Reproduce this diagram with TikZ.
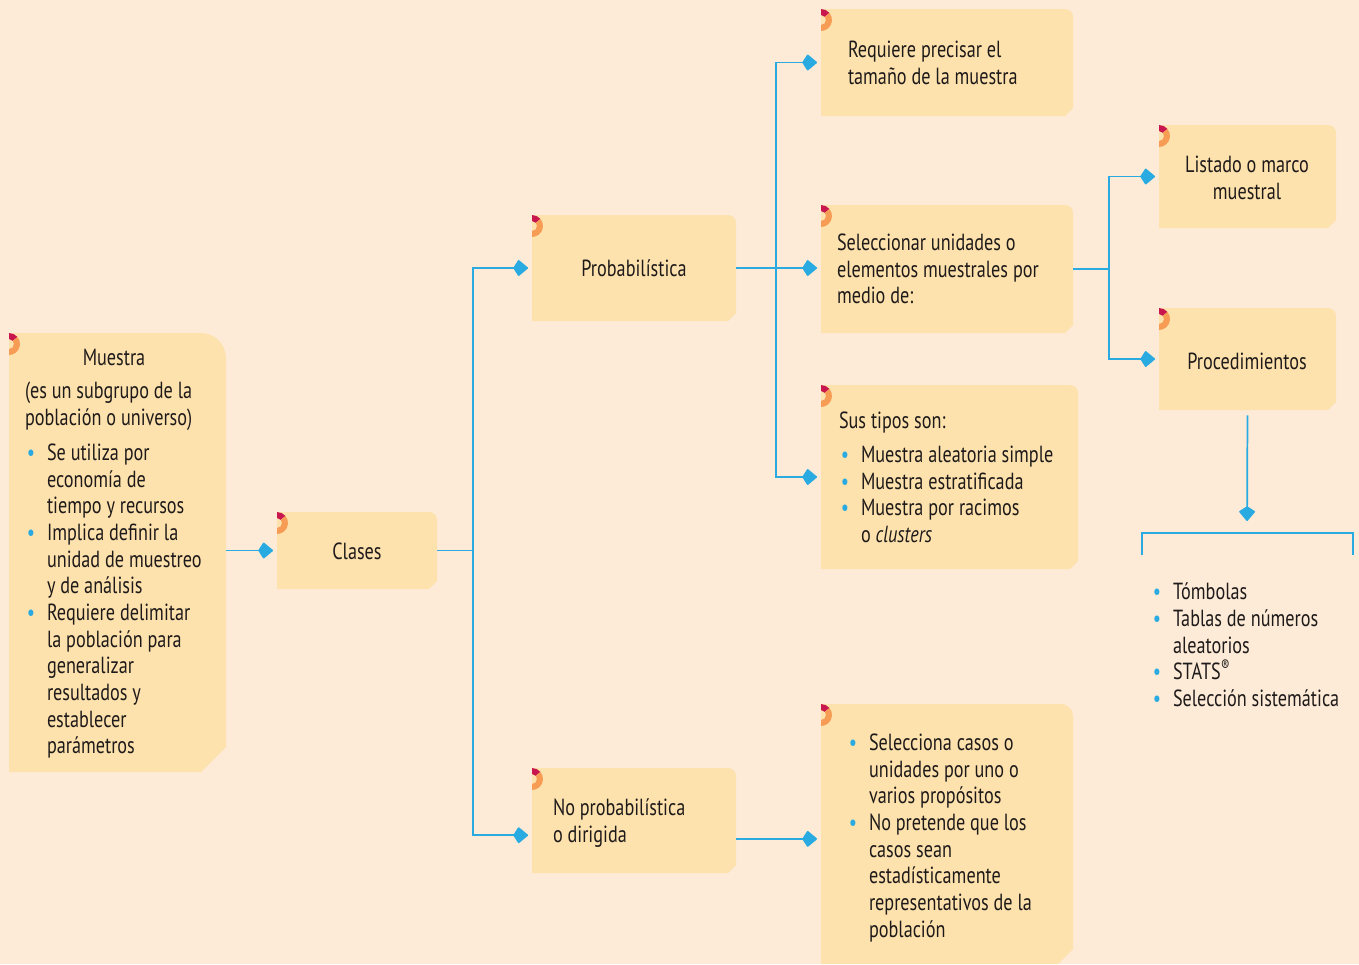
\documentclass[tikz,border=0pt]{standalone}
\usepackage{fontspec}
\setmainfont{PT Sans}[FakeStretch=0.78]
\usetikzlibrary{arrows.meta,calc}
\definecolor{bg}{HTML}{FDEBD7}
\definecolor{cardc}{HTML}{FEE2AD}
\definecolor{ringa}{HTML}{C8174F}
\definecolor{ringb}{HTML}{F69C55}
\definecolor{linec}{HTML}{29ABE2}
\definecolor{txt}{HTML}{1E1A1A}
\newcommand\mycard[7]{%
  \fill[cardc] (#2,#3) -- (#4-#6,#3) .. controls (#4-0.448*#6,#3) and (#4,#3+0.448*#6) .. (#4,#3+#6) -- (#4,#5-#7) -- (#4-#7,#5) -- (#2,#5) -- cycle;
  \begin{scope}[shift={(#2,#3+11)},x=1pt,y=1pt]
    \fill[ringa] (90:8.25) arc[start angle=90,end angle=40,radius=8.25] -- (40:3.75) arc[start angle=40,end angle=90,radius=3.75] -- cycle;
    \fill[ringb] (40:8.25) arc[start angle=40,end angle=-90,radius=8.25] -- (-90:3.75) arc[start angle=-90,end angle=40,radius=3.75] -- cycle;
  \end{scope}
  \node[minimum width={(#4-#2)*0.75pt}, minimum height={(#5-#3)*0.75pt}] (#1) at ({(#2+#4)/2},{(#3+#5)/2}) {};
}
\newcommand\bul{\llap{\textcolor{linec}{•}\hspace{9pt}}}
\tikzset{
  every node/.style={font=\fontsize{17.5}{20}\selectfont, text=txt, inner sep=0pt, outer sep=0pt},
  conn/.style={draw=linec, line width=1.3pt, -{Kite[length=11.5pt,width=12.5pt,inset=4pt,round]}, shorten >=3pt},
  plain/.style={draw=linec, line width=1.3pt},
  txtl/.style={anchor=north west, align=left},
}
\begin{document}
\begin{tikzpicture}[x=0.75pt,y=-0.75pt]
\fill[bg] (0,0) rectangle (1359,964);
\useasboundingbox (0,0) rectangle (1359,964);

\mycard{muestra}{9}{333}{226}{772}{25}{25}
\mycard{clases}{277}{512}{437}{589}{8}{8}
\mycard{prob}{532}{215}{736}{321}{8}{8}
\mycard{noprob}{532}{768}{736}{873}{8}{8}
\mycard{req}{821}{9}{1073}{116}{8}{8}
\mycard{sel}{821}{205}{1073}{333}{8}{8}
\mycard{tipos}{821}{385}{1078}{569}{8}{8}
\mycard{casos}{821}{704}{1073}{964}{12}{15}
\mycard{listado}{1159}{125}{1336}{228}{8}{8}
\mycard{proc}{1159}{308}{1336}{410}{8}{8}

% connectors
\draw[conn] (muestra.east |- clases.west) -- (clases.west);
\coordinate (j1) at ($(clases.east)+(36,0)$);
\draw[plain] (clases.east) -- (j1);
\draw[conn] (j1) |- (prob.west);
\draw[conn] (j1) |- ($(noprob.north west)!0.64!(noprob.south west)$);
\coordinate (j2) at ($(prob.east)+(40,0)$);
\draw[conn] (prob.east) -- (sel.west |- prob.east);
\draw[conn] (j2) |- (req.west);
\draw[conn] (j2) |- (tipos.west);
\coordinate (j3) at ($(sel.east)+(36,0)$);
\draw[plain] (sel.east) -- (j3);
\draw[conn] (j3) |- (listado.west);
\draw[conn] (j3) |- (proc.west);
\coordinate (a5) at ($(noprob.north east)!0.675!(noprob.south east)$);
\draw[conn] (a5) -- (casos.west |- a5);
\coordinate (brk) at (1247,533);
\draw[conn, shorten <=4pt, shorten >=9pt] (proc.south) -- (brk);
\draw[plain] (1142,555) -- (1142,533) -- (1353,533) -- (1353,555);

% texts
\node (tm) at (114,357) {Muestra};
\node[txtl] (tm2) at (25,382) {(es un subgrupo de la\\población o universo)};
\node[txtl] (tm3) at (47,444) {\bul Se utiliza por\\economía de\\tiempo y recursos\\\bul Implica definir la\\unidad de muestreo\\y de análisis\\\bul Requiere delimitar\\la población para\\generalizar\\resultados y\\establecer\\parámetros};
\node (tc) at (357,551) {Clases};
\node (tp) at (634,268) {Probabilística};
\node[txtl] (tn) at (553,799) {No probabilística\\o dirigida};
\node[txtl] (tr) at (848,41) {Requiere precisar el\\tamaño de la muestra};
\node[txtl] (ts) at (837,234) {Seleccionar unidades o\\elementos muestrales por\\medio de:};
\node[txtl] (tt) at (839,412) {Sus tipos son:};
\node[txtl] (tt2) at (861,446) {\bul Muestra aleatoria simple\\\bul Muestra estratificada\\\bul Muestra por racimos\\o \textit{clusters}};
\node[txtl] (tca) at (869,734) {\bul Selecciona casos o\\unidades por uno o\\varios propósitos\\\bul No pretende que los\\casos sean\\estadísticamente\\representativos de la\\población};
\node[align=center] (tl) at (1247,178) {Listado o marco\\muestral};
\node (tpr) at (1247,361) {Procedimientos};
\node[txtl] (tli) at (1173,583) {\bul Tómbolas\\\bul Tablas de números\\aleatorios\\\bul STATS\textsuperscript{®}\\\bul Selección sistemática};
\end{tikzpicture}
\end{document}
